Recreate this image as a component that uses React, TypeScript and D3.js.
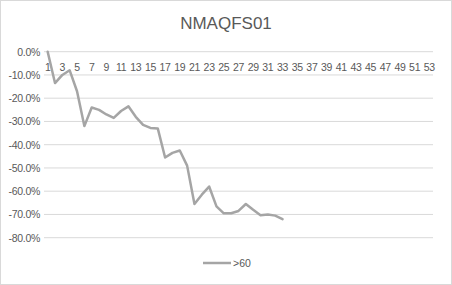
import React from "react";
import * as d3 from "d3";

const title = "NMAQFS01";
const seriesName = ">60";
const categories: number[] = Array.from({ length: 53 }, (_, i) => i + 1);
const values: number[] = [
  0, -13.5, -10, -8, -17, -32, -24, -25, -27, -28.5, -25.5, -23.5, -28, -31.5, -32.8, -33,
  -45.5, -43.5, -42.5, -49, -65.5, -61.5, -58, -66.5, -69.5, -69.5, -68.5, -65.5, -68, -70.3,
  -70, -70.5, -72,
];
const yTicks: number[] = [0, -10, -20, -30, -40, -50, -60, -70, -80];

export default function App() {
  const W = 452, H = 285;
  const left = 44, right = 433, top = 51.7, bottom = 237.7;
  const x = d3.scaleBand<number>().domain(categories).range([left, right]);
  const y = d3.scaleLinear().domain([0, -80]).range([top, bottom]);
  const cx = (c: number) => (x(c) as number) + x.bandwidth() / 2;
  const line = d3
    .line<number>()
    .x((_, i) => cx(categories[i]))
    .y((d) => y(d));
  const font = "'Liberation Sans', Arial, sans-serif";
  return (
    <svg
      width={W}
      height={H}
      style={{ position: "absolute", left: 0, top: 0 }}
      fontFamily={font}
    >
      <rect x={0.5} y={0.5} width={W - 1} height={H - 1} fill="#fff" stroke="#d9d9d9" />
      <text x={226} y={29} textAnchor="middle" fontSize={17} fill="#595959">
        {title}
      </text>
      {yTicks.map((t) => (
        <g key={t}>
          <line x1={left} x2={right} y1={y(t)} y2={y(t)} stroke="#d9d9d9" strokeWidth={1} />
          <text x={40} y={y(t) + 4} textAnchor="end" fontSize={10.5} fill="#595959"
            letterSpacing={-0.3}>
            {t.toFixed(1) + "%"}
          </text>
        </g>
      ))}
      {categories
        .filter((_, i) => i % 2 === 0)
        .map((c) => (
          <text key={c} x={cx(c)} y={71} textAnchor="middle" fontSize={10.5} fill="#595959"
            letterSpacing={-0.3}>
            {c}
          </text>
        ))}
      <path d={line(values) || ""} fill="none" stroke="#a5a5a5" strokeWidth={2.5}
        strokeLinejoin="round" strokeLinecap="round" />
      <line x1={203} x2={231} y1={263} y2={263} stroke="#a5a5a5" strokeWidth={2.5} />
      <text x={233} y={267} fontSize={10.5} fill="#595959">
        {seriesName}
      </text>
    </svg>
  );
}
